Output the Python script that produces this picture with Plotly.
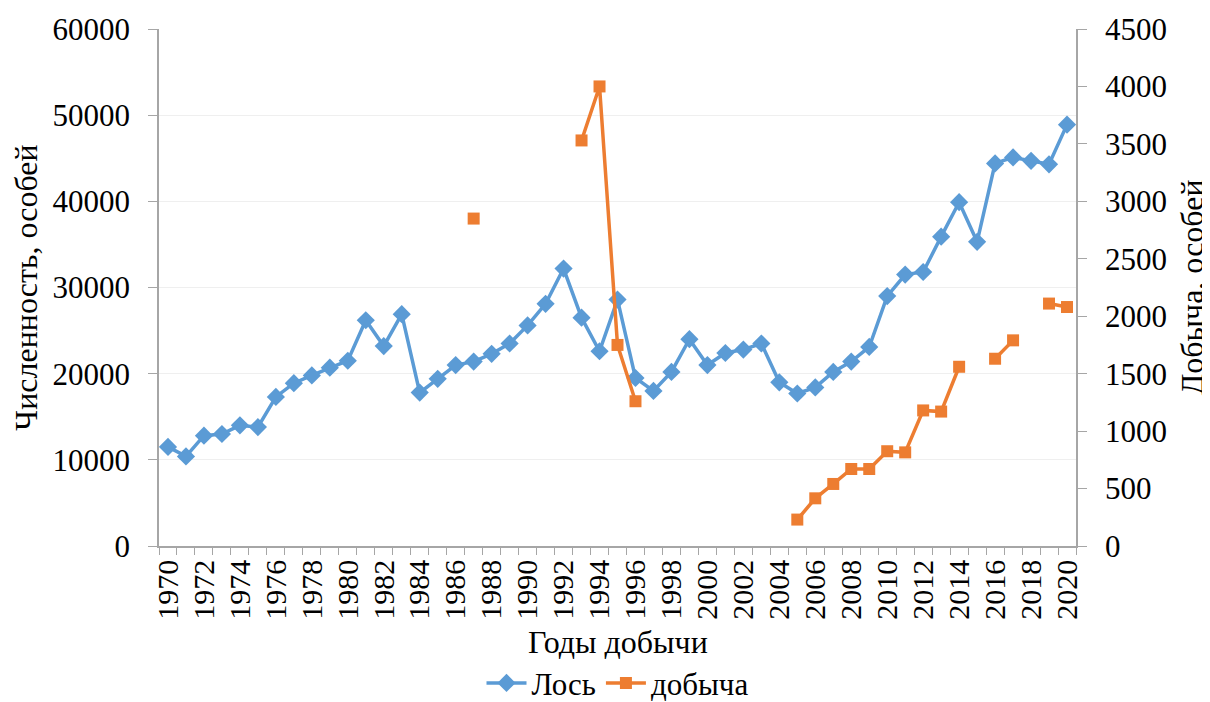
import plotly.graph_objects as go

years = list(range(1970, 2021))
los = [11500, 10400, 12800, 13000, 14000, 13800, 17300, 18900, 19800, 20700,
       21500, 26200, 23200, 26900, 17800, 19400, 21000, 21400, 22300, 23500,
       25600, 28100, 32200, 26500, 22600, 28600, 19500, 18000, 20200, 24000,
       21000, 22400, 22800, 23500, 19000, 17700, 18400, 20200, 21400, 23100,
       29000, 31500, 31800, 35900, 39900, 35300, 44400, 45100, 44700, 44300,
       48900]
dobycha = [None] * 17 + [2850] + [None] * 5 + [3530, 4000, 1750, 1260] + [None] * 8 + \
          [230, 415, 540, 670, 670, 825, 815, 1180, 1170, 1560, None, 1630, 1790, None, 2110, 2080]

x_ticks = list(range(1970, 2021, 2))
left_ticks = list(range(0, 60001, 10000))
right_ticks = list(range(0, 4501, 500))

FONT = "Liberation Serif"
BLUE = "#5B9BD5"
ORANGE = "#ED7D31"
AXIS = "#a6a6a6"

fig = go.Figure()
fig.add_trace(go.Scatter(x=years, y=los, name="Лось", mode="lines+markers",
                         line=dict(color=BLUE, width=3.5),
                         marker=dict(symbol="diamond", size=14, color=BLUE)))
fig.add_trace(go.Scatter(x=years, y=dobycha, name="добыча", mode="lines+markers",
                         yaxis="y2", connectgaps=False,
                         line=dict(color=ORANGE, width=3.5),
                         marker=dict(symbol="square", size=12, color=ORANGE)))

# page body has an 8px default margin, so the figure is 8px smaller
fig.update_layout(
    width=1202, height=694,
    margin=dict(l=151, r=134, t=21, b=156, autoexpand=False),
    paper_bgcolor="white", plot_bgcolor="white",
    font=dict(family=FONT, size=31, color="black"),
    showlegend=True,
    legend=dict(orientation="h", x=0.5, xanchor="center",
                yref="container", y=0.027, yanchor="middle",
                font=dict(size=31), itemwidth=40, tracegroupgap=0),
    xaxis=dict(range=[1969.5, 2020.5], tickmode="array", tickvals=x_ticks,
               ticktext=[str(v) for v in x_ticks], tickangle=-90,
               tickfont=dict(size=30), ticks="", showgrid=False,
               showline=True, linecolor=AXIS, linewidth=1.5,
               minor=dict(tick0=1969.5, dtick=1, ticks="outside", ticklen=7,
                          tickcolor=AXIS, showgrid=False),
               automargin=False, zeroline=False),
    yaxis=dict(range=[0, 60000], tickmode="array", tickvals=left_ticks,
               ticktext=[str(v) for v in left_ticks],
               ticks="outside", ticklen=9, tickcolor=AXIS, ticklabelstandoff=12,
               showline=True, linecolor=AXIS, linewidth=1.5,
               showgrid=True, gridcolor="#efefef", gridwidth=1,
               tickfont=dict(size=31), zeroline=False, automargin=False,
               title=dict(text="Численность, особей", font=dict(size=32), standoff=7)),
    yaxis2=dict(range=[0, 4500], tickmode="array", tickvals=right_ticks,
                ticktext=[str(v) for v in right_ticks],
                overlaying="y", side="right",
                ticks="outside", ticklen=9, tickcolor=AXIS, ticklabelstandoff=12,
                showline=True, linecolor=AXIS, linewidth=1.5,
                showgrid=False, tickfont=dict(size=31), zeroline=False, automargin=False,
                title=dict(text="Добыча, особей", font=dict(size=32), standoff=20)),
    annotations=[dict(text="Годы добычи", xref="paper", yref="paper",
                      x=0.5, y=-0.186, xanchor="center", yanchor="middle",
                      showarrow=False, font=dict(size=32, family=FONT, color="black"))],
)

fig.write_html("out.html")
